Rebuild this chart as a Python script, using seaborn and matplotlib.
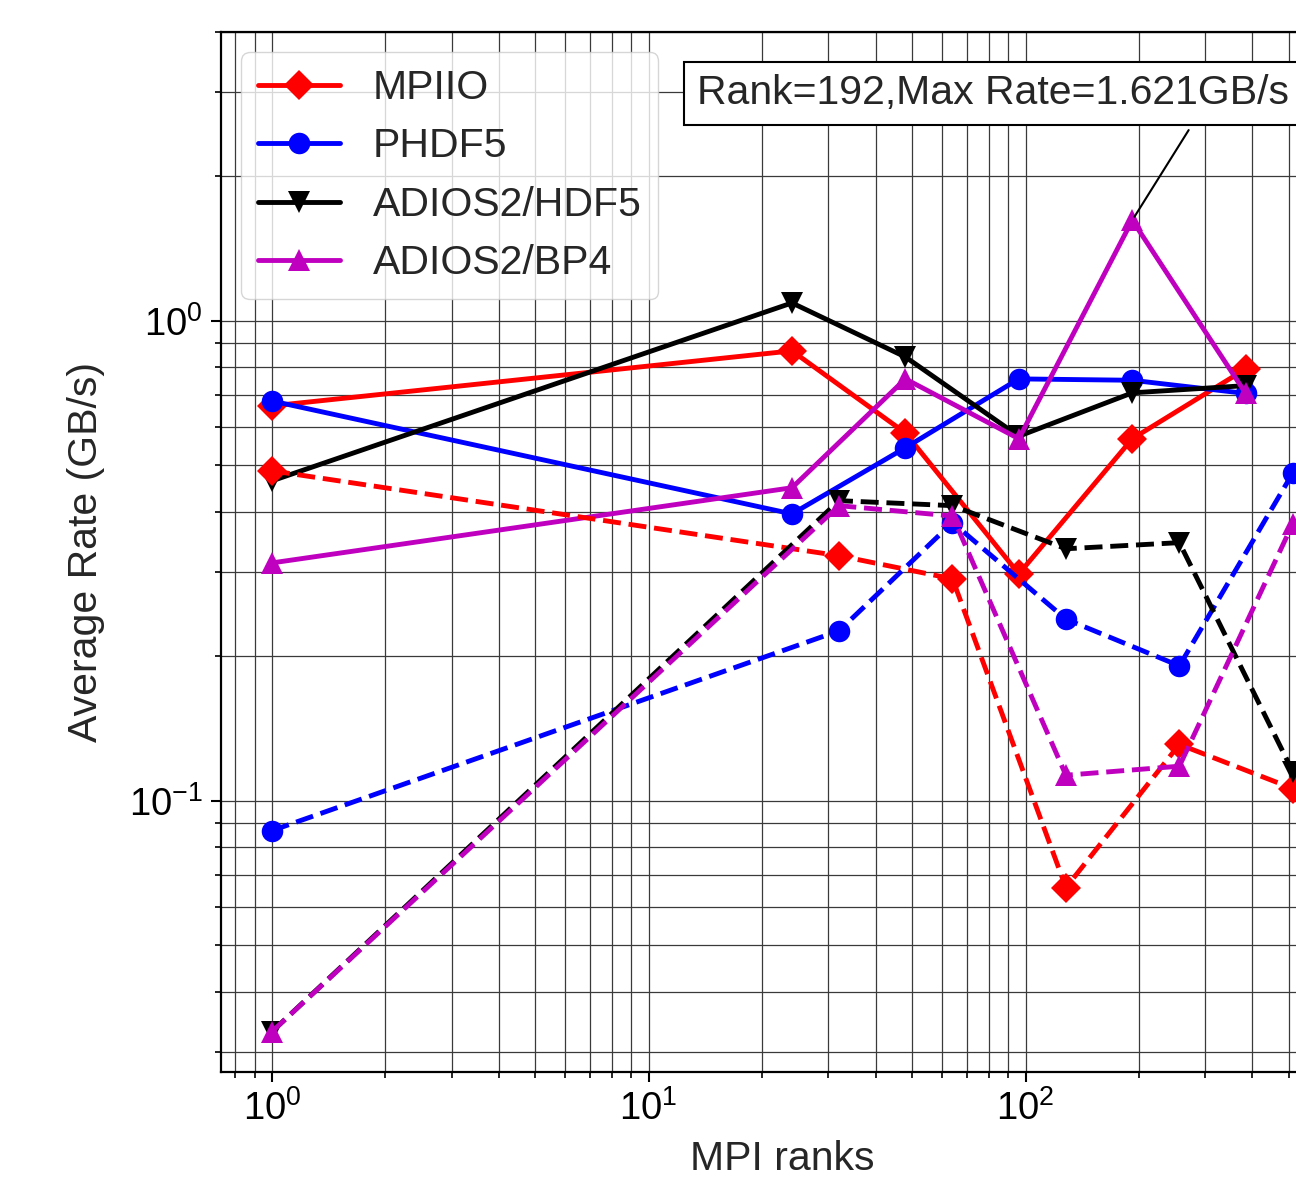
import matplotlib
matplotlib.use("Agg")
import matplotlib.pyplot as plt
import seaborn as sns
import pandas as pd

# ---------------- data ----------------
libraries = ["MPIIO", "PHDF5", "ADIOS2/HDF5", "ADIOS2/BP4"]
colors = ["#ff0000", "#0000ff", "#000000", "#bf00bf"]
markers = ["D", "o", "v", "^"]

ranks_solid = [1, 24, 48, 96, 192, 384]
ranks_dashed = [1, 32, 64, 128, 256, 512]

mpiio_solid = [0.665, 0.866, 0.584, 0.297, 0.568, 0.794]
phdf5_solid = [0.681, 0.396, 0.544, 0.757, 0.752, 0.706]
adios_hdf5_solid = [0.464, 1.09, 0.841, 0.575, 0.708, 0.733]
adios_bp4_solid = [0.313, 0.449, 0.757, 0.568, 1.621, 0.706]

mpiio_dashed = [0.487, 0.324, 0.290, 0.0659, 0.131, 0.106]
phdf5_dashed = [0.0866, 0.226, 0.380, 0.239, 0.191, 0.482]
adios_hdf5_dashed = [0.033, 0.422, 0.412, 0.335, 0.345, 0.115]
adios_bp4_dashed = [0.033, 0.412, 0.392, 0.113, 0.118, 0.378]

annot_text = "Rank=192,Max Rate=1.621GB/s"
annot_rank = 192
annot_rate = 1.621

solid_series = [mpiio_solid, phdf5_solid, adios_hdf5_solid, adios_bp4_solid]
dashed_series = [mpiio_dashed, phdf5_dashed, adios_hdf5_dashed, adios_bp4_dashed]

rows = []
for lib, vals in zip(libraries, solid_series):
    for r, v in zip(ranks_solid, vals):
        rows.append({"ranks": r, "rate": v, "lib": lib, "mode": "solid"})
for lib, vals in zip(libraries, dashed_series):
    for r, v in zip(ranks_dashed, vals):
        rows.append({"ranks": r, "rate": v, "lib": lib, "mode": "dashed"})
df = pd.DataFrame(rows)

# ---------------- style ----------------
sns.set_style("ticks")
plt.rcParams["font.family"] = ["Liberation Sans", "DejaVu Sans"]
plt.rcParams["mathtext.default"] = "regular"

W, H = 1296, 1181
fig = plt.figure(figsize=(W / 100, H / 100), dpi=100)
ax_left, ax_right, ax_top, ax_bottom = 221, 1344, 32, 1072
ax = fig.add_axes([ax_left / W, (H - ax_bottom) / H,
                   (ax_right - ax_left) / W, (ax_bottom - ax_top) / H])

lw = 3.5
ms = 15.5
for lib, col, mk in zip(libraries, colors, markers):
    sub = df[(df["lib"] == lib) & (df["mode"] == "solid")]
    sns.lineplot(data=sub, x="ranks", y="rate", ax=ax, color=col, marker=mk,
                 markersize=ms, markeredgecolor=col, markeredgewidth=0,
                 linewidth=lw, linestyle="-", label=lib, errorbar=None)
for lib, col, mk in zip(libraries, colors, markers):
    sub = df[(df["lib"] == lib) & (df["mode"] == "dashed")]
    sns.lineplot(data=sub, x="ranks", y="rate", ax=ax, color=col, marker=mk,
                 markersize=ms, markeredgecolor=col, markeredgewidth=0,
                 linewidth=lw, linestyle="--", errorbar=None)

ax.set_xscale("log")
ax.set_yscale("log")
ax.set_xlim(0.733, 700)
ax.set_ylim(0.0272, 4.0)

ax.grid(True, which="both", color="#3a3a3a", linewidth=0.9)

for side in ["left", "bottom", "top", "right"]:
    ax.spines[side].set_visible(True)
    ax.spines[side].set_linewidth(1.6)
    ax.spines[side].set_color("black")

ax.tick_params(which="major", direction="out", length=7, width=1.5,
               labelsize=27.5, colors="black", pad=6)
ax.tick_params(which="minor", direction="out", length=4, width=1.2,
               colors="black")

ax.set_xlabel("MPI ranks", fontsize=29.5, labelpad=9)
ax.set_ylabel("Average Rate (GB/s)", fontsize=29.5, labelpad=17)

leg = ax.legend(loc="upper left", fontsize=29.5, frameon=True, fancybox=True,
                framealpha=0.8, edgecolor="0.8")

ax.annotate(annot_text, xy=(annot_rank, annot_rate), xycoords="data",
            xytext=(13.4, 2.98), textcoords="data",
            ha="left", va="center", fontsize=29.5,
            bbox=dict(boxstyle="square,pad=0.3", fc="white", ec="black", lw=1.5),
            arrowprops=dict(arrowstyle="-", color="black", lw=1.5,
                            relpos=(0.85, 0.0), shrinkA=4, shrinkB=3))

fig.savefig("out.png", dpi=100)
